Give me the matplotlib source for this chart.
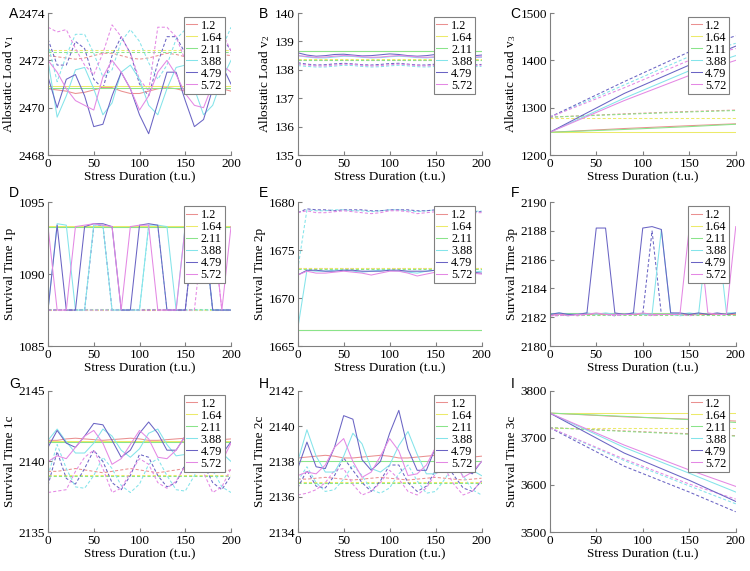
import matplotlib
matplotlib.use("Agg")
import matplotlib.pyplot as plt

plt.rcParams['font.family'] = ['Liberation Serif', 'DejaVu Serif']
plt.rcParams['mathtext.fontset'] = 'custom'
plt.rcParams['mathtext.rm'] = 'Liberation Serif'
plt.rcParams['mathtext.it'] = 'Liberation Serif:italic'

# stress duration sampling (t.u.)
time = list(range(0, 201, 10))
t_ends = [0, 200]
t_lin = [0, 80, 150, 200]

labels = ["1.2", "1.64", "2.11", "3.88", "4.79", "5.72"]
colors = ["#ea9090", "#ecea6a", "#8ae48a", "#84e4ea", "#6a64c4", "#e488e4"]

# ---- A: allostatic load v1
a_solid = {
    "1.2": [2470.8, 2470.75, 2470.7, 2470.6, 2470.65, 2470.75, 2470.85, 2470.85, 2470.7, 2470.6, 2470.6,
            2470.7, 2470.8, 2470.85, 2470.8, 2470.7, 2470.6, 2470.6, 2470.7, 2470.8, 2470.7],
    "1.64": [2470.9, 2470.9],
    "2.11": [2470.85, 2470.85],
    "3.88": [2472.0, 2469.6, 2470.5, 2471.6, 2471.7, 2470.8, 2469.7, 2470.2, 2471.5, 2471.8, 2471.2,
             2470.1, 2469.7, 2470.8, 2471.7, 2471.8, 2470.8, 2469.7, 2470.1, 2471.2, 2472.0],
    "4.79": [2471.3, 2470.0, 2471.2, 2471.4, 2470.5, 2469.2, 2469.3, 2470.5, 2471.5, 2470.8, 2469.7,
             2468.9, 2470.2, 2471.5, 2471.5, 2470.3, 2469.2, 2469.5, 2470.8, 2471.8, 2471.0],
    "5.72": [2472.0, 2471.5, 2470.8, 2470.3, 2470.1, 2469.9, 2471.3, 2472.0, 2471.5, 2470.8, 2469.9,
             2470.5, 2471.5, 2472.0, 2471.4, 2470.6, 2470.1, 2470.0, 2471.0, 2471.8, 2471.5],
}
a_dash = {
    "1.2": [2472.2, 2472.15, 2472.1, 2472.05, 2472.1, 2472.2, 2472.3, 2472.3, 2472.2, 2472.1, 2472.05,
            2472.1, 2472.2, 2472.3, 2472.25, 2472.15, 2472.05, 2472.05, 2472.15, 2472.25, 2472.2],
    "1.64": [2472.45, 2472.45],
    "2.11": [2472.35, 2472.35],
    "3.88": [2472.7, 2471.1, 2472.2, 2473.1, 2473.1, 2472.3, 2471.3, 2471.6, 2472.8, 2473.3, 2472.8,
             2471.9, 2471.2, 2471.8, 2472.9, 2473.3, 2473.2, 2472.2, 2471.5, 2472.5, 2473.4],
    "4.79": [2472.9, 2471.8, 2471.8, 2472.8, 2472.5, 2471.2, 2470.8, 2472.2, 2473.0, 2472.3, 2471.0,
             2470.5, 2471.9, 2473.0, 2473.0, 2472.3, 2471.0, 2470.8, 2471.8, 2473.0, 2472.4],
    "5.72": [2473.4, 2473.2, 2473.3, 2472.5, 2471.8, 2471.4, 2472.3, 2473.5, 2473.0, 2472.3, 2471.2,
             2470.7, 2473.4, 2473.4, 2473.0, 2472.0, 2471.3, 2471.5, 2472.6, 2473.2, 2472.4],
}

# ---- B: allostatic load v2
b_solid = {
    "1.2": [138.65, 138.65],
    "1.64": [138.67, 138.67],
    "2.11": [138.66, 138.66],
    "3.88": [138.5, 138.45, 138.42, 138.42, 138.45, 138.48, 138.47, 138.44, 138.42, 138.43, 138.46,
             138.48, 138.46, 138.43, 138.42, 138.44, 138.47, 138.48, 138.45, 138.43, 138.44],
    "4.79": [138.6, 138.52, 138.48, 138.5, 138.54, 138.55, 138.52, 138.49, 138.5, 138.53, 138.56,
             138.54, 138.5, 138.48, 138.5, 138.54, 138.56, 138.53, 138.5, 138.49, 138.52],
    "5.72": [138.5, 138.47, 138.44, 138.45, 138.48, 138.5, 138.49, 138.46, 138.44, 138.45, 138.48,
             138.5, 138.48, 138.45, 138.44, 138.46, 138.49, 138.5, 138.47, 138.45, 138.46],
}
b_dash = {
    "1.2": [138.35, 138.35],
    "1.64": [138.37, 138.37],
    "2.11": [138.36, 138.36],
    "3.88": [138.15, 138.12, 138.1, 138.1, 138.13, 138.16, 138.15, 138.12, 138.1, 138.11, 138.14,
             138.16, 138.14, 138.11, 138.1, 138.12, 138.15, 138.16, 138.13, 138.11, 138.12],
    "4.79": [138.25, 138.2, 138.17, 138.18, 138.21, 138.23, 138.21, 138.18, 138.17, 138.19, 138.22,
             138.23, 138.2, 138.17, 138.17, 138.2, 138.23, 138.22, 138.19, 138.17, 138.19],
    "5.72": [138.2, 138.17, 138.14, 138.14, 138.17, 138.2, 138.19, 138.16, 138.14, 138.15, 138.18,
             138.2, 138.18, 138.15, 138.14, 138.16, 138.19, 138.2, 138.17, 138.15, 138.16],
}

# ---- C: allostatic load v3 (values at t = 0, 80, 150, 200)
c_solid = {
    "1.2": [1248, 1256, 1262, 1266],
    "1.64": [1248, 1248, 1248, 1248],
    "2.11": [1248, 1254, 1260, 1265],
    "3.88": [1248, 1320, 1378, 1410],
    "4.79": [1248, 1330, 1390, 1430],
    "5.72": [1248, 1315, 1368, 1400],
}
c_dash = {
    "1.2": [1280, 1287, 1292, 1295],
    "1.64": [1278, 1278, 1278, 1278],
    "2.11": [1280, 1286, 1291, 1294],
    "3.88": [1280, 1348, 1408, 1436],
    "4.79": [1280, 1355, 1418, 1452],
    "5.72": [1280, 1342, 1400, 1425],
}

# ---- D: survival time 1p
d_solid = {
    "1.2": [1093.3, 1093.3],
    "1.64": [1093.35, 1093.35],
    "2.11": [1093.3, 1093.3],
    "3.88": [1087.5, 1093.5, 1093.4, 1087.5, 1087.5, 1093.4, 1093.4, 1087.5, 1087.5, 1087.5, 1087.5,
             1093.4, 1093.4, 1093.3, 1087.5, 1093.4, 1093.5, 1093.4, 1087.5, 1087.5, 1087.5],
    "4.79": [1087.5, 1093.4, 1087.5, 1087.5, 1093.3, 1093.5, 1093.5, 1093.3, 1087.5, 1087.5, 1093.4,
             1093.5, 1093.4, 1087.5, 1087.5, 1087.5, 1093.4, 1093.5, 1087.5, 1087.5, 1087.5],
    "5.72": [1093.3, 1087.5, 1087.5, 1093.3, 1093.4, 1093.5, 1093.4, 1093.3, 1087.5, 1093.3, 1093.4,
             1093.4, 1087.5, 1087.5, 1087.5, 1093.3, 1093.4, 1093.4, 1093.3, 1087.5, 1093.3],
}
d_dash = {
    "1.2": [1087.5, 1087.5],
    "1.64": [1087.5, 1087.5],
    "2.11": [1087.55, 1087.55],
    "3.88": [1087.5, 1087.5, 1087.5, 1087.5, 1087.5, 1087.5, 1087.5, 1087.5, 1087.5, 1087.5, 1087.5,
             1093.3, 1093.3, 1087.5, 1087.5, 1087.5, 1087.5, 1087.5, 1087.5, 1087.5, 1087.5],
    "4.79": [1087.5, 1087.5, 1087.5, 1087.5, 1087.5, 1093.3, 1093.4, 1087.5, 1087.5, 1087.5, 1087.5,
             1087.5, 1087.5, 1087.5, 1087.5, 1087.5, 1093.3, 1093.3, 1087.5, 1087.5, 1087.5],
    "5.72": [1087.5, 1087.5, 1087.5, 1087.5, 1087.5, 1087.5, 1087.5, 1087.5, 1087.5, 1087.5, 1087.5,
             1087.5, 1087.5, 1087.5, 1087.5, 1087.5, 1087.5, 1093.3, 1093.3, 1087.5, 1087.5],
}

# ---- E: survival time 2p
e_solid = {
    "1.2": [1666.72, 1666.72],
    "1.64": [1666.7, 1666.7],
    "2.11": [1666.68, 1666.68],
    "3.88": [1666.8, 1672.9, 1672.8, 1672.8, 1672.9, 1672.9, 1672.8, 1672.7, 1672.8, 1672.9, 1672.9,
             1672.8, 1672.7, 1672.6, 1672.8, 1672.9, 1672.9, 1672.8, 1672.7, 1672.7, 1672.8],
    "4.79": [1672.4, 1672.9, 1672.9, 1672.8, 1672.8, 1672.9, 1672.9, 1672.8, 1672.8, 1672.8, 1672.9,
             1672.9, 1672.8, 1672.8, 1672.8, 1672.9, 1672.8, 1672.7, 1672.7, 1672.7, 1672.6],
    "5.72": [1672.4, 1672.8, 1672.6, 1672.6, 1672.7, 1672.8, 1672.7, 1672.6, 1672.4, 1672.6, 1672.8,
             1672.8, 1672.6, 1672.3, 1672.5, 1672.7, 1672.8, 1672.7, 1672.6, 1672.6, 1672.5],
}
e_dash = {
    "1.2": [1673.1, 1673.1],
    "1.64": [1673.12, 1673.12],
    "2.11": [1673.08, 1673.08],
    "3.88": [1673.0, 1679.2, 1679.1, 1679.1, 1679.2, 1679.2, 1679.1, 1679.1, 1679.0, 1679.1, 1679.2,
             1679.2, 1679.1, 1679.0, 1679.1, 1679.2, 1679.2, 1679.1, 1679.0, 1679.0, 1679.1],
    "4.79": [1678.9, 1679.3, 1679.2, 1679.2, 1679.1, 1679.2, 1679.2, 1679.2, 1679.1, 1679.1, 1679.2,
             1679.2, 1679.2, 1679.1, 1679.1, 1679.2, 1679.1, 1679.1, 1679.0, 1679.0, 1679.0],
    "5.72": [1678.9, 1679.1, 1678.9, 1678.9, 1679.0, 1679.1, 1679.0, 1678.9, 1678.8, 1678.9, 1679.1,
             1679.1, 1679.0, 1678.8, 1678.9, 1679.0, 1679.1, 1679.0, 1678.9, 1678.9, 1678.9],
}

# ---- F: survival time 3p
f_solid = {
    "1.2": [2182.25, 2182.25],
    "1.64": [2182.3, 2182.3],
    "2.11": [2182.28, 2182.28],
    "3.88": [2182.2, 2182.3, 2182.2, 2182.2, 2182.3, 2182.2, 2182.3, 2182.2, 2182.2, 2182.3, 2182.2,
             2182.2, 2188.1, 2182.3, 2182.2, 2182.3, 2182.2, 2188.0, 2188.1, 2182.3, 2182.3],
    "4.79": [2182.2, 2182.3, 2182.2, 2182.2, 2182.3, 2188.2, 2188.2, 2182.3, 2182.2, 2182.3, 2188.2,
             2188.3, 2188.1, 2182.3, 2182.3, 2182.2, 2182.3, 2182.2, 2182.3, 2182.2, 2182.3],
    "5.72": [2182.1, 2182.2, 2182.1, 2182.2, 2182.2, 2182.3, 2182.2, 2182.2, 2182.2, 2182.2, 2182.3,
             2182.2, 2182.2, 2182.2, 2182.2, 2188.2, 2188.2, 2182.3, 2182.2, 2182.2, 2188.3],
}
f_dash = {
    "1.2": [2182.2, 2182.2],
    "1.64": [2182.22, 2182.22],
    "2.11": [2182.18, 2182.18],
    "3.88": [2182.2, 2182.2, 2182.1, 2182.2, 2182.2, 2182.2, 2182.2, 2182.1, 2182.2, 2182.2, 2182.2,
             2182.2, 2182.2, 2182.2, 2182.1, 2182.2, 2182.2, 2182.2, 2182.2, 2182.2, 2182.2],
    "4.79": [2182.1, 2182.2, 2182.2, 2182.2, 2182.2, 2182.2, 2182.2, 2182.2, 2182.2, 2182.2, 2182.2,
             2188.0, 2182.2, 2182.2, 2182.2, 2182.2, 2182.2, 2182.2, 2182.2, 2182.2, 2182.2],
    "5.72": [2182.1, 2182.1, 2182.2, 2182.1, 2182.2, 2182.2, 2182.2, 2182.1, 2182.2, 2182.2, 2182.2,
             2182.1, 2182.2, 2182.2, 2182.2, 2182.1, 2182.2, 2182.2, 2182.2, 2182.2, 2182.2],
}

# ---- G: survival time 1c
g_solid = {
    "1.2": [2141.5, 2141.5, 2141.6, 2141.65, 2141.6, 2141.55, 2141.5, 2141.55, 2141.6, 2141.65, 2141.6,
            2141.5, 2141.5, 2141.55, 2141.6, 2141.65, 2141.6, 2141.55, 2141.5, 2141.55, 2141.6],
    "1.64": [2141.45, 2141.45],
    "2.11": [2141.4, 2141.4],
    "3.88": [2141.5, 2142.3, 2141.4, 2140.6, 2140.6, 2141.3, 2142.3, 2141.8, 2140.8, 2140.3, 2140.9,
             2142.0, 2142.3, 2141.2, 2140.4, 2140.5, 2141.5, 2142.2, 2141.5, 2140.6, 2140.0],
    "4.79": [2141.0, 2142.2, 2141.3, 2141.0, 2141.8, 2142.7, 2142.6, 2141.5, 2140.3, 2140.8, 2142.0,
             2142.8, 2142.0, 2140.8, 2140.8, 2141.8, 2142.5, 2142.3, 2141.2, 2140.5, 2141.4],
    "5.72": [2140.0, 2140.4, 2140.2, 2141.0, 2141.8, 2142.2, 2141.3, 2139.8, 2140.2, 2141.2, 2142.2,
             2141.6, 2140.3, 2140.2, 2140.8, 2141.8, 2142.2, 2141.7, 2140.5, 2140.0, 2141.3],
}
g_dash = {
    "1.2": [2139.3, 2139.3, 2139.4, 2139.5, 2139.4, 2139.3, 2139.2, 2139.3, 2139.4, 2139.5, 2139.4,
            2139.3, 2139.2, 2139.3, 2139.4, 2139.5, 2139.4, 2139.3, 2139.2, 2139.3, 2139.4],
    "1.64": [2139.05, 2139.05],
    "2.11": [2139.0, 2139.0],
    "3.88": [2139.0, 2141.2, 2139.5, 2138.2, 2138.1, 2139.0, 2140.3, 2139.5, 2138.3, 2137.8, 2138.4,
             2139.8, 2140.2, 2139.0, 2138.0, 2137.9, 2139.0, 2140.2, 2139.4, 2138.2, 2137.8],
    "4.79": [2138.3, 2140.7, 2138.8, 2138.4, 2139.5, 2140.8, 2140.0, 2138.5, 2138.0, 2139.0, 2140.5,
             2140.3, 2139.0, 2138.2, 2138.5, 2139.8, 2140.8, 2139.8, 2138.5, 2138.0, 2139.0],
    "5.72": [2137.8, 2137.9, 2138.0, 2139.3, 2140.3, 2140.8, 2139.5, 2137.8, 2138.1, 2139.2, 2140.2,
             2139.8, 2138.5, 2138.1, 2138.6, 2139.7, 2140.2, 2139.2, 2137.8, 2138.2, 2139.5],
}

# ---- H: survival time 2c
h_solid = {
    "1.2": [2138.2, 2138.25, 2138.3, 2138.35, 2138.3, 2138.2, 2138.2, 2138.25, 2138.3, 2138.35, 2138.3,
            2138.2, 2138.2, 2138.25, 2138.3, 2138.35, 2138.3, 2138.2, 2138.2, 2138.25, 2138.3],
    "1.64": [2138.05, 2138.05],
    "2.11": [2138.0, 2138.0],
    "3.88": [2138.0, 2139.8, 2138.3, 2137.4, 2137.4, 2138.3, 2139.6, 2139.0, 2137.6, 2137.4, 2137.8,
             2138.9, 2139.7, 2138.4, 2137.3, 2137.3, 2138.2, 2139.5, 2138.7, 2137.5, 2137.2],
    "4.79": [2137.6, 2139.1, 2137.7, 2137.6, 2138.8, 2140.6, 2140.4, 2138.1, 2137.5, 2138.0, 2139.6,
             2140.9, 2138.7, 2137.5, 2137.5, 2138.8, 2139.5, 2138.8, 2137.5, 2137.3, 2138.0],
    "5.72": [2137.2, 2137.4, 2137.3, 2137.8, 2138.8, 2139.3, 2138.0, 2137.1, 2137.4, 2138.3, 2139.3,
             2138.6, 2137.2, 2137.3, 2137.8, 2138.8, 2139.3, 2138.2, 2137.1, 2137.4, 2138.0],
}
h_dash = {
    "1.2": [2137.0, 2137.0, 2137.05, 2137.1, 2137.05, 2137.0, 2136.95, 2137.0, 2137.05, 2137.1, 2137.05,
            2137.0, 2136.95, 2137.0, 2137.05, 2137.1, 2137.05, 2137.0, 2136.95, 2137.0, 2137.05],
    "1.64": [2136.85, 2136.85],
    "2.11": [2136.8, 2136.8],
    "3.88": [2136.9, 2137.7, 2136.8, 2136.3, 2136.4, 2137.0, 2137.8, 2137.2, 2136.4, 2136.2, 2136.5,
             2137.3, 2137.8, 2136.9, 2136.2, 2136.3, 2137.0, 2137.8, 2137.2, 2136.4, 2136.1],
    "4.79": [2136.5, 2137.5, 2136.6, 2136.5, 2137.2, 2138.2, 2137.5, 2136.8, 2136.3, 2136.9, 2137.8,
             2137.8, 2136.8, 2136.3, 2136.6, 2137.5, 2138.0, 2137.2, 2136.5, 2136.3, 2136.9],
    "5.72": [2136.1, 2136.2, 2136.4, 2136.8, 2137.5, 2137.6, 2136.7, 2136.1, 2136.3, 2136.8, 2137.5,
             2137.0, 2136.3, 2136.1, 2136.5, 2137.3, 2137.6, 2136.7, 2136.1, 2136.3, 2136.9],
}

# ---- I: survival time 3c (values at t = 0, 80, 150, 200)
i_solid = {
    "1.2": [3753, 3745, 3740, 3736],
    "1.64": [3753, 3753, 3753, 3753],
    "2.11": [3753, 3746, 3739, 3733],
    "3.88": [3753, 3680, 3625, 3585],
    "4.79": [3753, 3668, 3610, 3565],
    "5.72": [3753, 3685, 3632, 3597],
}
i_dash = {
    "1.2": [3722, 3715, 3709, 3705],
    "1.64": [3722, 3722, 3722, 3722],
    "2.11": [3722, 3714, 3708, 3704],
    "3.88": [3722, 3652, 3598, 3560],
    "4.79": [3722, 3640, 3585, 3543],
    "5.72": [3722, 3655, 3602, 3570],
}

panels = [
    ("A", a_solid, a_dash, "Allostatic Load v$_1$", (2468, 2474), [2468, 2470, 2472, 2474]),
    ("B", b_solid, b_dash, "Allostatic Load v$_2$", (135, 140), [135, 136, 137, 138, 139, 140]),
    ("C", c_solid, c_dash, "Allostatic Load v$_3$", (1200, 1500), [1200, 1300, 1400, 1500]),
    ("D", d_solid, d_dash, "Survival Time 1p", (1085, 1095), [1085, 1090, 1095]),
    ("E", e_solid, e_dash, "Survival Time 2p", (1665, 1680), [1665, 1670, 1675, 1680]),
    ("F", f_solid, f_dash, "Survival Time 3p", (2180, 2190), [2180, 2182, 2184, 2186, 2188, 2190]),
    ("G", g_solid, g_dash, "Survival Time 1c", (2135, 2145), [2135, 2140, 2145]),
    ("H", h_solid, h_dash, "Survival Time 2c", (2134, 2142), [2134, 2136, 2138, 2140, 2142]),
    ("I", i_solid, i_dash, "Survival Time 3c", (3500, 3800), [3500, 3600, 3700, 3800]),
]


def xs_for(y):
    if len(y) == len(time):
        return time
    if len(y) == len(t_lin):
        return t_lin
    return t_ends


fig = plt.figure(figsize=(7.5, 5.71), dpi=100)

col_left = [0.064, 0.397, 0.733]
col_w = [0.244, 0.245, 0.248]
row_bot = [0.7285, 0.394, 0.0683]
row_h = [0.2487, 0.252, 0.247]
letter_y = [0.975, 0.662, 0.327]

for k, (letter, solid, dash, ylab, ylim, yticks) in enumerate(panels):
    r, c = divmod(k, 3)
    ax = fig.add_axes([col_left[c], row_bot[r], col_w[c], row_h[r]])
    handles = []
    for lab, col in zip(labels, colors):
        y = dash[lab]
        ax.plot(xs_for(y), y, color=col, lw=0.75, dashes=(3, 2))
    for lab, col in zip(labels, colors):
        y = solid[lab]
        h, = ax.plot(xs_for(y), y, color=col, lw=0.75, label=lab)
        handles.append(h)
    ax.set_xlim(0, 200)
    ax.set_ylim(*ylim)
    ax.set_xticks([0, 50, 100, 150, 200])
    ax.set_yticks(yticks)
    ax.tick_params(direction='in', length=3, labelsize=9.5, pad=2, color='#808080')
    for s in ['top', 'right']:
        ax.spines[s].set_visible(False)
    for s in ['left', 'bottom']:
        ax.spines[s].set_color('#808080')
        ax.spines[s].set_linewidth(0.8)
    ax.set_xlabel("Stress Duration (t.u.)", fontsize=9.5, labelpad=1)
    ax.set_ylabel(ylab, fontsize=9.5, labelpad=2)
    leg = ax.legend(handles=handles, loc='upper right', bbox_to_anchor=(0.965, 0.97),
                    fontsize=8.8, frameon=True, fancybox=False, framealpha=1,
                    edgecolor='#808080', handlelength=0.9, handletextpad=0.3,
                    borderpad=0.2, labelspacing=0.0, borderaxespad=0)
    leg.get_frame().set_linewidth(0.8)
    fig.text(col_left[c] - 0.052, letter_y[r], letter, fontsize=10,
             family='Liberation Sans', ha='left', va='center')

fig.savefig("out.png", dpi=100)
